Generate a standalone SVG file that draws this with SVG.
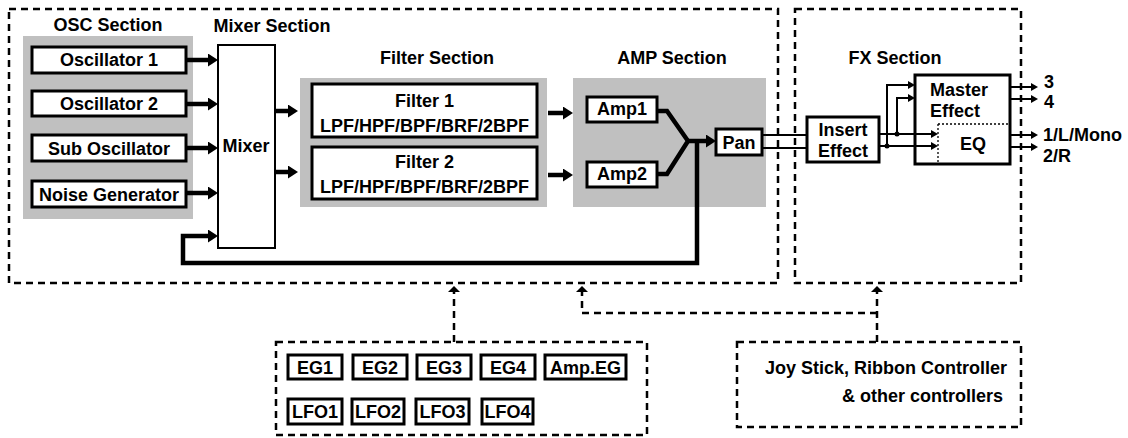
<svg xmlns="http://www.w3.org/2000/svg" width="1128" height="438" viewBox="0 0 1128 438">
<style>
text{font-family:"Liberation Sans",Arial,sans-serif;font-weight:bold;font-size:18px;fill:#000}
.c{text-anchor:middle}
.e{text-anchor:end}
.gray{fill:#c0c0c0;stroke:none}
.box{fill:#fff;stroke:#000;stroke-width:3}
.thin{fill:#fff;stroke:#000;stroke-width:2}
.dash{fill:none;stroke:#000;stroke-width:2.5;stroke-dasharray:7 5}
.thick{fill:none;stroke:#000;stroke-width:4.5;stroke-linejoin:miter}
.wire{fill:none;stroke:#000;stroke-width:2}
</style>
<defs>
<marker id="big" markerUnits="userSpaceOnUse" markerWidth="10" markerHeight="13" viewBox="0 0 10 13" refX="0" refY="6.5" orient="auto"><path d="M0,0 L10,6.5 L0,13 z" fill="#000"/></marker>
<marker id="small" markerUnits="userSpaceOnUse" markerWidth="7" markerHeight="8" viewBox="0 0 7 8" refX="0" refY="4" orient="auto"><path d="M0,0 L7,4 L0,8 z" fill="#000"/></marker>
<marker id="dhead" markerUnits="userSpaceOnUse" markerWidth="6" markerHeight="12" viewBox="0 0 6 12" refX="0" refY="6" orient="auto"><path d="M0,0 L6,6 L0,12 z" fill="#000"/></marker>
</defs>

<g id="main-section">
<rect class="dash" x="9" y="9" width="769" height="274"/>
</g>
<g id="fx-section">
<rect class="dash" x="795" y="9" width="226" height="274"/>
<text class="c" x="895" y="64">FX Section</text>
</g>

<g id="osc-section">
<rect class="gray" x="23" y="36" width="170" height="183"/>
<text class="c" x="108" y="31">OSC Section</text>
</g>
<g id="osc1"><rect class="box" x="32" y="47" width="154" height="26"/><text class="c" x="109" y="66">Oscillator 1</text></g>
<g id="osc2"><rect class="box" x="32" y="91" width="154" height="25"/><text class="c" x="109" y="110">Oscillator 2</text></g>
<g id="subosc"><rect class="box" x="32" y="135" width="154" height="26"/><text class="c" x="109" y="155">Sub Oscillator</text></g>
<g id="noise"><rect class="box" x="32" y="181" width="154" height="26"/><text class="c" x="109" y="201">Noise Generator</text></g>

<g id="mixer">
<text class="c" x="272" y="32">Mixer Section</text>
<rect class="thin" x="218" y="45" width="57" height="203"/>
<text class="c" x="246" y="152">Mixer</text>
</g>

<g id="filter-section">
<rect class="gray" x="300" y="78" width="247" height="129"/>
<text class="c" x="437" y="64">Filter Section</text>
</g>
<g id="filter1"><rect class="box" x="312" y="84" width="225" height="53"/><text class="c" x="424.5" y="107">Filter 1</text><text class="c" x="424.5" y="132">LPF/HPF/BPF/BRF/2BPF</text></g>
<g id="filter2"><rect class="box" x="312" y="147" width="225" height="52"/><text class="c" x="424.5" y="168">Filter 2</text><text class="c" x="424.5" y="193">LPF/HPF/BPF/BRF/2BPF</text></g>

<g id="amp-section">
<rect class="gray" x="573" y="78" width="193" height="129"/>
<text class="c" x="672" y="64">AMP Section</text>
</g>
<g id="amp1"><rect class="box" x="587" y="97" width="70" height="25"/><text class="c" x="622" y="115">Amp1</text></g>
<g id="amp2"><rect class="box" x="587" y="162" width="70" height="25"/><text class="c" x="622" y="180">Amp2</text></g>
<g id="pan"><rect class="box" x="716" y="129" width="46" height="26"/><text class="c" x="739" y="148.5">Pan</text></g>

<g id="insert"><rect class="box" x="807" y="117" width="72" height="45"/><text class="c" x="843" y="136">Insert</text><text class="c" x="843" y="157">Effect</text></g>
<g id="master">
<rect class="box" x="915" y="75" width="95" height="89"/>
<text x="930" y="96">Master</text><text x="930" y="117">Effect</text>
<path d="M938,124 H1010 M938,124 V164" fill="none" stroke="#000" stroke-width="1.3" stroke-dasharray="2 2"/>
<text class="c" x="973" y="150">EQ</text>
</g>
<g id="outputs">
<text x="1044" y="88">3</text>
<text x="1044" y="108">4</text>
<text x="1043" y="141">1/L/Mono</text>
<text x="1043" y="162">2/R</text>
</g>

<g id="modulators">
<rect class="dash" x="276" y="342" width="371" height="93"/>
<g id="eg1"><rect class="box" x="288" y="355" width="54" height="24"/><text class="c" x="315" y="374">EG1</text></g>
<g id="eg2"><rect class="box" x="353" y="355" width="54" height="24"/><text class="c" x="380" y="374">EG2</text></g>
<g id="eg3"><rect class="box" x="417" y="355" width="54" height="24"/><text class="c" x="444" y="374">EG3</text></g>
<g id="eg4"><rect class="box" x="481" y="355" width="54" height="24"/><text class="c" x="508" y="374">EG4</text></g>
<g id="ampeg"><rect class="box" x="545" y="355" width="81" height="24"/><text class="c" x="585.5" y="374">Amp.EG</text></g>
<g id="lfo1"><rect class="box" x="288" y="399" width="54" height="25"/><text class="c" x="315" y="418">LFO1</text></g>
<g id="lfo2"><rect class="box" x="352" y="399" width="52" height="25"/><text class="c" x="378" y="418">LFO2</text></g>
<g id="lfo3"><rect class="box" x="416" y="399" width="53" height="25"/><text class="c" x="442.5" y="418">LFO3</text></g>
<g id="lfo4"><rect class="box" x="482" y="399" width="51" height="25"/><text class="c" x="507.5" y="418">LFO4</text></g>
</g>

<g id="controllers">
<rect class="dash" x="737" y="342" width="284" height="85"/>
<text class="e" x="1007" y="374">Joy Stick, Ribbon Controller</text>
<text class="e" x="1003" y="402">&amp; other controllers</text>
</g>

<g id="connectors">
<path class="thick" d="M186,60 H208" marker-end="url(#big)"/>
<path class="thick" d="M186,104 H208" marker-end="url(#big)"/>
<path class="thick" d="M186,148 H208" marker-end="url(#big)"/>
<path class="thick" d="M186,193 H208" marker-end="url(#big)"/>
<path class="thick" d="M275,111 H288" marker-end="url(#big)"/>
<path class="thick" d="M275,172 H288" marker-end="url(#big)"/>
<path class="thick" d="M548,113 H563" marker-end="url(#big)"/>
<path class="thick" d="M548,175 H563" marker-end="url(#big)"/>
<path class="thick" d="M657,111 H667 L688,141 L667,174 H657"/>
<path class="thick" d="M686,141 H706" marker-end="url(#big)"/>
<path class="thick" d="M697,141 V263 H183 V236 H208" marker-end="url(#big)"/>
<path class="wire" d="M762,135 H807 M762,148 H807"/>
<path class="wire" d="M879,134 H931" marker-end="url(#small)"/>
<path class="wire" d="M879,146 H931" marker-end="url(#small)"/>
<path class="wire" d="M887,146 V85 H908" marker-end="url(#small)"/>
<path class="wire" d="M897,134 V98 H908" marker-end="url(#small)"/>
<circle cx="887" cy="146" r="2.5"/>
<circle cx="897" cy="134" r="2.5"/>
<path class="wire" d="M1010,87 H1031" marker-end="url(#small)"/>
<path class="wire" d="M1010,99 H1031" marker-end="url(#small)"/>
<path class="wire" d="M1010,135 H1031" marker-end="url(#small)"/>
<path class="wire" d="M1010,147 H1031" marker-end="url(#small)"/>
<path class="dash" d="M454,342 V292" marker-end="url(#dhead)"/>
<path class="dash" d="M877,313 H582 V292" marker-end="url(#dhead)"/>
<path class="dash" d="M877,342 V292" marker-end="url(#dhead)"/>
</g>
</svg>
